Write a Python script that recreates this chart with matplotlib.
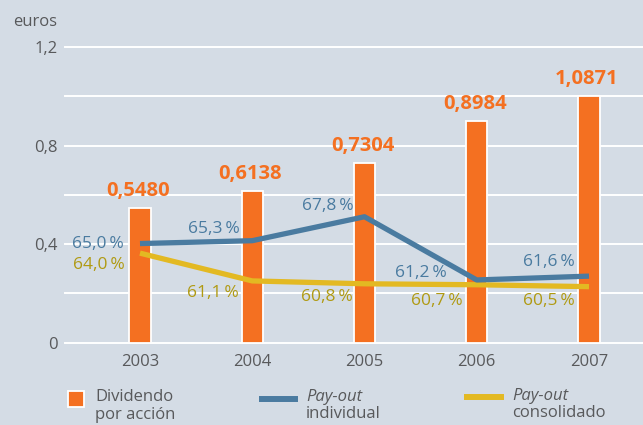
import matplotlib
matplotlib.use("Agg")
import matplotlib.pyplot as plt
from matplotlib.patches import Rectangle
from matplotlib.lines import Line2D

plt.rcParams['font.family'] = ['Open Sans', 'DejaVu Sans']

# data
years = ['2003', '2004', '2005', '2006', '2007']
dividend = [0.5480, 0.6138, 0.7304, 0.8984, 1.0871]
dividend_labels = ['0,5480', '0,6138', '0,7304', '0,8984', '1,0871']
bar_heights = [0.548, 0.614, 0.730, 0.898, 1.0]   # the 2007 bar is drawn capped at 1,0
payout_individual = [65.0, 65.3, 67.8, 61.2, 61.6]
payout_consolidated = [64.0, 61.1, 60.8, 60.7, 60.5]
yticks = [0, 0.4, 0.8, 1.2]
ytick_labels = ['0', '0,4', '0,8', '1,2']

BG = '#d4dce5'
ORANGE = '#f47021'
BLUE = '#4a7ba0'
YELLOW = '#e3b922'
YELLOW_TXT = '#b09a12'
GREY = '#58595b'


def pct(v):
    return f"{v:.1f}".replace('.', ',') + '\u2009%'


fig = plt.figure(figsize=(6.43, 4.25), dpi=100, facecolor=BG)
ax = fig.add_axes([0.1011, 0.1941, 0.8989, 0.6953])
ax.set_facecolor(BG)
x = list(range(len(years)))

ax.set_xlim(-0.668, 4.481)
ax.set_ylim(0, 1.2)
for s in ax.spines.values():
    s.set_visible(False)
for g in [0, 0.2, 0.4, 0.6, 0.8, 1.0, 1.2]:
    ax.axhline(g, color='white', lw=1.4, zorder=1, clip_on=False)

ax.bar(x, bar_heights, width=0.19, color=ORANGE, edgecolor='white', lw=1.3, zorder=2)
for xi, h, lab in zip(x, bar_heights, dividend_labels):
    ax.annotate(lab, (xi, h), xytext=(-2, 7), textcoords='offset pixels',
                ha='center', va='bottom', fontsize=14.5, fontweight='bold',
                color=ORANGE, zorder=5)

ax.set_xticks(x, years)
ax.set_yticks(yticks, ytick_labels)
ax.tick_params(length=0, labelsize=12, labelcolor=GREY)
ax.tick_params(axis='x', pad=8)
ax.tick_params(axis='y', pad=5)
ax.text(-0.0135, 1.083, 'euros', transform=ax.transAxes, ha='right', va='center',
        fontsize=12, color=GREY)

# payout lines on a hidden percentage scale
ax2 = ax.twinx()
ax2.set_ylim(54.67, 85.52)
ax2.axis('off')
ax2.plot(x, payout_consolidated, color=YELLOW, lw=3.8, solid_capstyle='butt', zorder=3)
ax2.plot(x, payout_individual, color=BLUE, lw=3.8, solid_capstyle='butt', zorder=4)

blue_off = [(-42, 0), (-38, 12), (-37, 11), (-56, 7), (-40, 14)]
yellow_off = [(-41, -12), (-39, -12), (-38, -13), (-40, -16), (-40, -14)]
for xi, v, off in zip(x, payout_individual, blue_off):
    ax2.annotate(pct(v), (xi, v), xytext=off, textcoords='offset pixels',
                 ha='center', va='center', fontsize=12.5, color=BLUE)
for xi, v, off in zip(x, payout_consolidated, yellow_off):
    ax2.annotate(pct(v), (xi, v), xytext=off, textcoords='offset pixels',
                 ha='center', va='center', fontsize=12.5, color=YELLOW_TXT)

# legend drawn by hand in figure pixels
W, H = 643, 425
fig.patches.append(Rectangle((68 / W, 1 - 407 / H), 16 / W, 16 / H, transform=fig.transFigure,
                             facecolor=ORANGE, edgecolor='white', lw=1.3))
fig.lines.append(Line2D([262 / W, 295 / W], [1 - 399 / H] * 2, transform=fig.transFigure,
                        color=BLUE, lw=4.3))
fig.lines.append(Line2D([467 / W, 501 / W], [1 - 397 / H] * 2, transform=fig.transFigure,
                        color=YELLOW, lw=4.3))
fig.text(95 / W, 1 - 397 / H, 'Dividendo', ha='left', va='center', fontsize=12, color=GREY)
fig.text(95 / W, 1 - 415 / H, 'por acción', ha='left', va='center', fontsize=12, color=GREY)
fig.text(306 / W, 1 - 397 / H, 'Pay-out', ha='left', va='center', fontsize=12, color=GREY, style='italic')
fig.text(306 / W, 1 - 414 / H, 'individual', ha='left', va='center', fontsize=12, color=GREY)
fig.text(512 / W, 1 - 396 / H, 'Pay-out', ha='left', va='center', fontsize=12, color=GREY, style='italic')
fig.text(512 / W, 1 - 413 / H, 'consolidado', ha='left', va='center', fontsize=12, color=GREY)

fig.savefig('out.png', dpi=100, facecolor=BG)
